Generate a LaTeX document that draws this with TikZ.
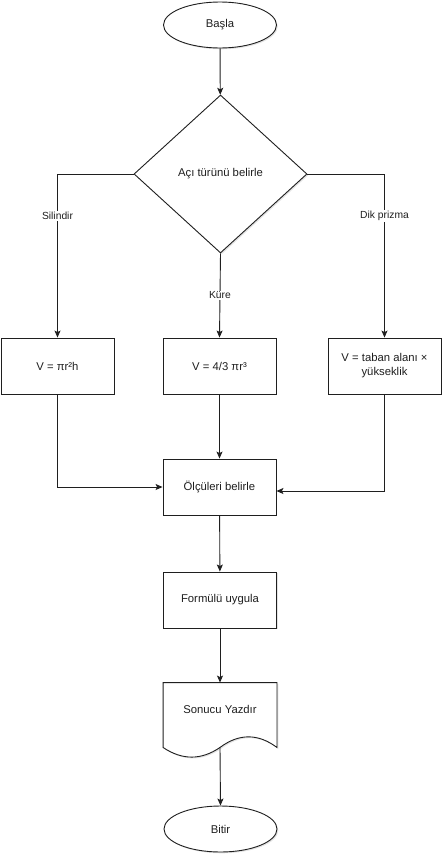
\documentclass[tikz,border=0pt]{standalone}
\usepackage{fontspec}
\setmainfont{Liberation Sans}
\usetikzlibrary{shapes.geometric,arrows.meta,shadows}

\begin{document}
\begin{tikzpicture}[x=1pt,y=-1pt, line width=0.9pt, color=black!88,
    every node/.style={font=\fontsize{11.3}{14}\selectfont},
    softshadow/.style={drop shadow={shadow xshift=1.3pt,shadow yshift=-1.3pt,opacity=0.22,fill=black!50}},
    terminal/.style={ellipse, draw, fill=white, softshadow, minimum width=113pt, minimum height=46pt, inner sep=0pt},
    process/.style={rectangle, draw, fill=white, softshadow, minimum width=113pt, minimum height=56pt, inner sep=0pt, align=center},
    decision/.style={diamond, draw, fill=white, softshadow, minimum width=173pt, minimum height=158pt, inner sep=0pt},
    docbox/.style={rectangle, minimum width=113pt, minimum height=64pt, inner sep=0pt},
    edgelabel/.style={fill=white, inner sep=1pt, font=\fontsize{10.3}{12}\selectfont},
    flow/.style={-{Stealth[length=7pt,width=6pt,inset=1.5pt]}}]
\useasboundingbox (0,0) rectangle (445,857);

\node[terminal](basla) at (220, 25){Başla};
\node[decision](karar) at (220.5, 174){Açı türünü belirle};

\node[process](silindir) at (57.5, 366){V = πr²h};
\node[process](kure) at (219.5, 366){V = 4/3 πr³};
\node[process](prizma) at (384.5, 366){V = taban alanı ×\\yükseklik};

\node[process](olcu) at (219.5, 487){Ölçüleri belirle};
\node[process](formul) at (220, 600){Formülü uygula};

% belge sekli
\node[docbox](sonuc) at (220, 715){};
\draw[fill=white, softshadow] (sonuc.north west) -- (sonuc.north east) -- (sonuc.south east)
  .. controls (258, 733.3) and (239, 733.3) .. (sonuc.south)
  .. controls (201.2, 760.3) and (182.2, 760.3) .. (sonuc.south west) -- cycle;
\node(sonucyazi) at (220, 709){Sonucu Yazdır};

\node[terminal](bitir) at (220.5, 829){Bitir};

\draw[flow] (basla) -- (karar);
\draw[flow] (karar.west) -| node[edgelabel, pos=0.628]{Silindir} (silindir.north);
\draw[flow] (karar.south) -- node[edgelabel]{Küre} (kure.north);
\draw[flow] (karar.east) -| node[edgelabel, pos=0.628]{Dik prizma} (prizma.north);

\draw[flow] (silindir.south) |- (olcu.west);
\draw[flow] (kure) -- (olcu);
\draw[flow] (prizma.south) |- ([yshift=-4pt]olcu.east);

\draw[flow] (olcu) -- (formul);
\draw[flow] (formul.south) -- (sonuc.north);
\draw[flow] (sonuc.south) -- (bitir.north);

\end{tikzpicture}
\end{document}
